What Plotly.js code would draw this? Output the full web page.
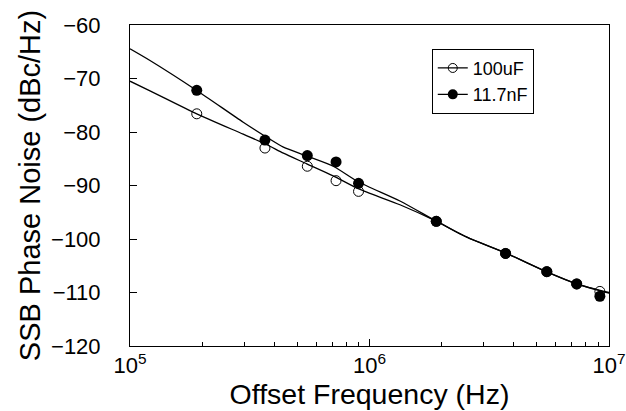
<!DOCTYPE html>
<html>
<head>
<meta charset="utf-8">
<script src="https://cdn.plot.ly/plotly-3.0.1.min.js"></script>
<style>html,body{margin:0;padding:0;background:#fff;}#chart{width:626px;height:411px;}</style>
</head>
<body>
<div id="chart"></div>
<script>
// Measured data points
var pointFreq = [1.9e5, 3.66e5, 5.5e5, 7.25e5, 9.0e5, 1.9e6, 3.7e6, 5.5e6, 7.33e6, 9.16e6];
var noise100uF = [-76.6, -83.0, -86.4, -89.1, -91.1, -96.7, -102.7, -106.1, -108.4, -109.8];
var noise11p7nF = [-72.2, -81.5, -84.4, -85.6, -89.6, -96.7, -102.7, -106.1, -108.4, -110.7];

// Fitted curves
var curveFreq = [1.0e5, 1.212e5, 1.90e5, 2.97e5, 3.72e5, 4.37e5, 5.47e5, 7.05e5, 8.97e5, 1.34e6, 1.90e6, 2.55e6, 3.72e6, 5.50e6, 7.33e6, 1.0e7];
var curve100uF = [-70.5, -72.3, -76.6, -80.41, -82.34, -83.96, -85.95, -88.2, -90.6, -93.6, -96.67, -99.66, -102.65, -106.13, -108.37, -110.0];
var curve11p7nF = [-64.45, -66.64, -72.24, -78.17, -80.97, -82.84, -84.49, -86.4, -89.3, -92.9, -96.67, -99.66, -102.65, -106.13, -108.37, -110.13];

var seriesNames = ["100uF", "11.7nF"];
var xTickVals = [1e5, 1e6, 1e7];
var xTickText = ["10<sup>5</sup>", "10<sup>6</sup>", "10<sup>7</sup>"];
var xMinorVals = [2e5,3e5,4e5,5e5,6e5,7e5,8e5,9e5,2e6,3e6,4e6,5e6,6e6,7e6,8e6,9e6];
var yTickVals = [-120, -110, -100, -90, -80, -70, -60];

var font = "Liberation Sans, Arial, sans-serif";

var traces = [
  {x: curveFreq, y: curve100uF, mode: 'lines', line: {color: '#000', width: 1.3, shape: 'spline', smoothing: 0.7}, showlegend: false, hoverinfo: 'skip'},
  {x: curveFreq, y: curve11p7nF, mode: 'lines', line: {color: '#000', width: 1.3, shape: 'spline', smoothing: 0.7}, showlegend: false, hoverinfo: 'skip'},
  {x: pointFreq, y: noise11p7nF, mode: 'markers', marker: {symbol: 'circle', color: '#000', size: 11}, showlegend: false},
  {x: pointFreq, y: noise100uF, mode: 'markers', marker: {symbol: 'circle-open', color: '#000', size: 10, line: {width: 1}}, showlegend: false},
  {x: [null], y: [null], name: seriesNames[0], mode: 'lines+markers', line: {color: '#000', width: 1.2}, marker: {symbol: 'circle-open', color: '#000', size: 9, line: {width: 1}}},
  {x: [null], y: [null], name: seriesNames[1], mode: 'lines+markers', line: {color: '#000', width: 1.2}, marker: {symbol: 'circle', color: '#000', size: 10}}
];

var layout = {
  width: 626, height: 411,
  margin: {l: 130, r: 17, t: 25, b: 65},
  paper_bgcolor: '#fff', plot_bgcolor: '#fff',
  font: {family: font, color: '#000'},
  showlegend: true,
  legend: {x: 0.63, y: 0.926, xanchor: 'left', yanchor: 'top', bgcolor: '#fff', bordercolor: '#000', borderwidth: 1,
           font: {size: 18, family: font}, tracegroupgap: 0, entrywidth: 80, entrywidthmode: 'pixels'},
  xaxis: {
    type: 'log', range: [5, 7],
    tickmode: 'array', tickvals: xTickVals, ticktext: xTickText,
    ticks: 'inside', ticklen: 7, tickwidth: 1, tickcolor: '#000',
    minor: {tickmode: 'array', tickvals: xMinorVals, ticks: 'inside', ticklen: 4, tickwidth: 1, tickcolor: '#000', showgrid: false},
    showline: true, linecolor: '#000', linewidth: 1, mirror: true,
    showgrid: false, zeroline: false,
    tickfont: {size: 22, family: font},
    title: {text: 'Offset Frequency (Hz)', font: {size: 28.5, family: font}, standoff: 2}
  },
  yaxis: {
    range: [-120, -60],
    tickmode: 'array', tickvals: yTickVals,
    ticks: 'inside', ticklen: 7, tickwidth: 1, tickcolor: '#000',
    showline: true, linecolor: '#000', linewidth: 1, mirror: true,
    showgrid: false, zeroline: false,
    tickfont: {size: 22, family: font},
    ticklabelstandoff: 24,
    title: {text: 'SSB Phase Noise (dBc/Hz)', font: {size: 29, family: font}, standoff: 1}
  }
};

Plotly.newPlot('chart', traces, layout, {displayModeBar: false, staticPlot: true});
</script>
</body>
</html>
